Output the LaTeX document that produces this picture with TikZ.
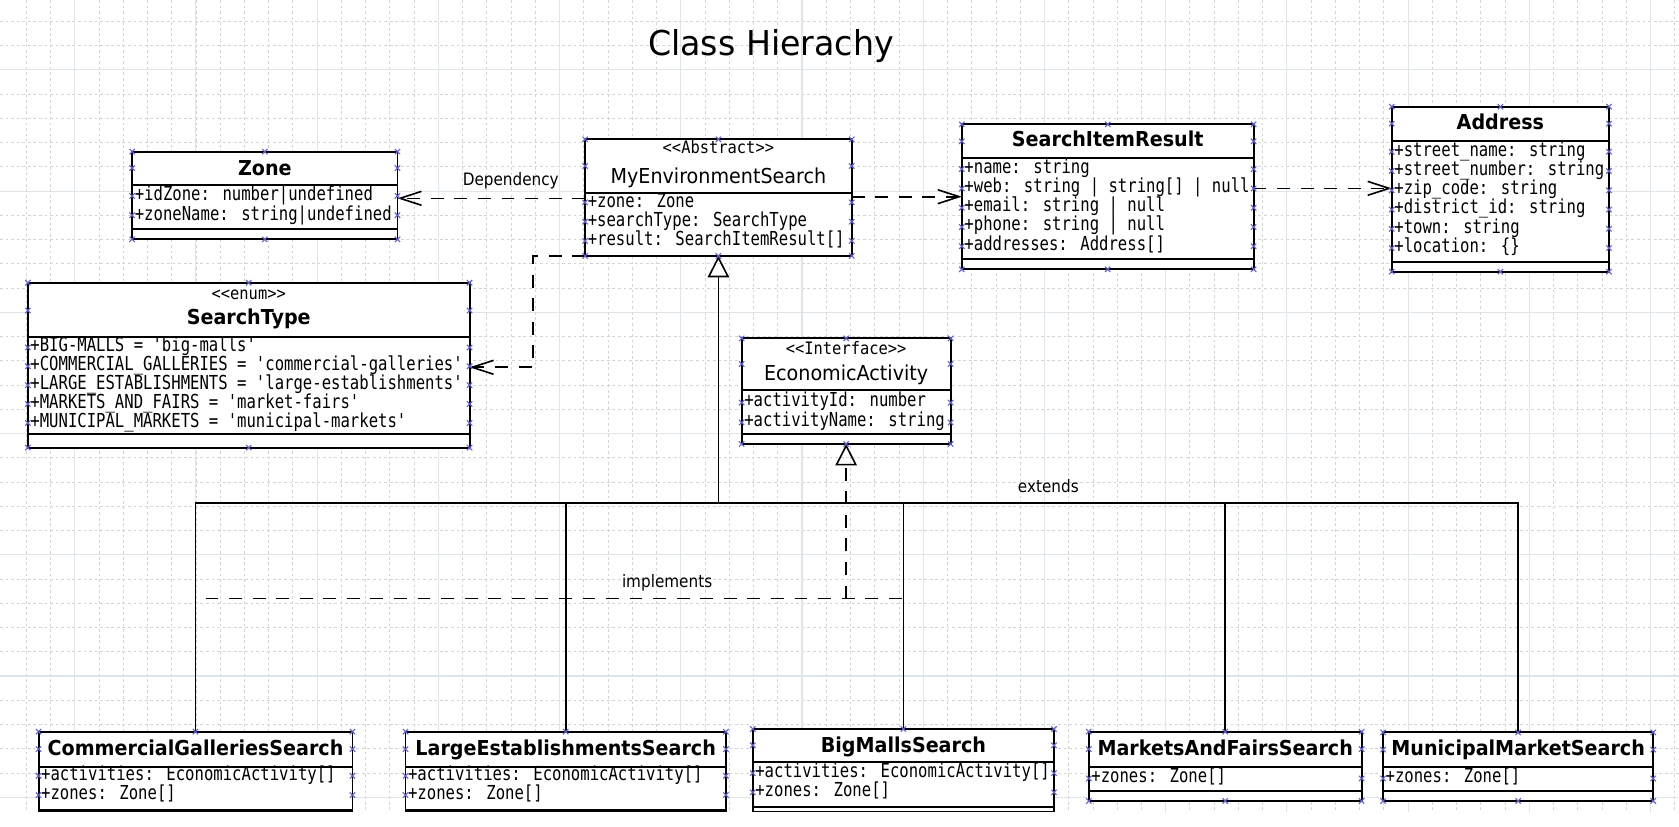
\documentclass[tikz,border=0pt]{standalone}
\usepackage{fontspec}
\setmainfont{DejaVu Sans}
\newfontfamily\attrfont[FakeStretch=0.81,Ligatures=TeXOff]{DejaVu Sans Mono}
\newfontfamily\sterfont[FakeStretch=0.9,Ligatures=TeXOff]{DejaVu Sans Mono}
\newfontfamily\namefont[FakeStretch=0.93]{DejaVu Sans}
\newfontfamily\lblfont[FakeStretch=0.89]{DejaVu Sans}
\newfontfamily\ttlfont[FakeStretch=0.97]{DejaVu Sans}
\usetikzlibrary{arrows.meta,fit,calc}
\definecolor{handlec}{RGB}{95,95,210}
\definecolor{majorc}{RGB}{222,230,236}
\tikzset{
  umlbox/.style={draw=black, line width=0.9pt, fill=white, inner sep=0pt, outer sep=0pt},
  sepline/.style={line width=0.9pt},
  attr/.style={anchor=base west, inner sep=0pt, font=\attrfont\fontsize{9}{9}\selectfont},
  cname/.style={anchor=base, inner sep=0pt, font=\namefont\bfseries\fontsize{9.6}{9.6}\selectfont},
  aname/.style={anchor=base, inner sep=0pt, font=\namefont\fontsize{9.6}{9.6}\selectfont},
  stereo/.style={anchor=base, inner sep=0pt, font=\sterfont\fontsize{8}{8}\selectfont},
  lbl/.style={anchor=base, inner sep=0pt, font=\lblfont\fontsize{8}{8}\selectfont},
  dashline/.style={line width=0.75pt, dash pattern=on 6pt off 5pt},
  dep/.style={dashline, -{Straight Barb[length=10pt,width=6.5pt,line width=0.75pt]}},
  gen/.style={line width=0.75pt},
  genhead/.style={-{Triangle[open,length=10pt,width=10pt,line width=0.75pt]}},
  handle/.style={draw=handlec, line width=0.5pt},
  minorgrid/.style={draw=black!17, line width=0.4pt, dash pattern=on 1.3pt off 1.3pt},
  majorgrid/.style={draw=majorc, line width=0.5pt},
}
\newcommand\classbox[7]{%
  \node[umlbox, fit={(#2,#4)(#3,#5)}] (#1) {};
  \draw[sepline] (#2,#6) -- (#3,#6);
  \draw[sepline] (#2,#7) -- (#3,#7);
}
\newcommand\hmark[2]{%
  \draw[handle] ($(#1,#2)+(-2.5,-2.5)$) -- ($(#1,#2)+(2.5,2.5)$)
                ($(#1,#2)+(-2.5,2.5)$) -- ($(#1,#2)+(2.5,-2.5)$);
}
\newcommand\handles[5]{%
  \foreach \hx in {#1,#2} {\foreach \hy in {#3,#4,#5} {\hmark{\hx}{\hy}}}
  \pgfmathsetmacro\hmid{(#1+#2)/2}
  \hmark{\hmid}{#3}
  \hmark{\hmid}{#4}
}
\begin{document}
\begin{tikzpicture}[x=0.5pt,y=-0.5pt]
\useasboundingbox (0,0) rectangle (1568,771.4);
% background grid
\foreach \i in {0,...,68} {\draw[minorgrid] (24.5+22.64*\i,0) -- (24.5+22.64*\i,771.4);}
\foreach \j in {0,...,33} {\draw[minorgrid] (0,20+22.64*\j) -- (1568,20+22.64*\j);}
\foreach \i in {0,...,13} {\draw[majorgrid] (69.8+113.2*\i,0) -- (69.8+113.2*\i,771.4);}
\foreach \j in {0,...,6} {\draw[majorgrid] (0,65.3+113.2*\j) -- (1568,65.3+113.2*\j);}

% title
\node[anchor=base, inner sep=0pt, font=\ttlfont\fontsize{16}{16}\selectfont] (title) at (720,51.5) {Class Hierachy};

% classes
\classbox{zone}{123.4}{371.2}{141.6}{223.5}{172.8}{213.9}
\node[cname] (zone-n) at (247.3,163.8) {Zone};
\node[attr] (zone-a1) at (125.5,187.4) {+idZone: number|undefined};
\node[attr] (zone-a2) at (125.5,205.5) {+zoneName: string|undefined};

\classbox{myenv}{546.4}{795.4}{130.1}{239}{180.5}{239}
\node[stereo] (myenv-s) at (670.9,143) {<<Abstract>>};
\node[aname] (myenv-n) at (670.9,171.2) {MyEnvironmentSearch};
\node[attr] (myenv-a1) at (548.5,193.6) {+zone: Zone};
\node[attr] (myenv-a2) at (548.5,211.6) {+searchType: SearchType};
\node[attr] (myenv-a3) at (548.5,229.6) {+result: SearchItemResult[]};

\classbox{sir}{898.2}{1170.7}{116.1}{251.5}{147.9}{242.2}
\node[cname] (sir-n) at (1034.5,137) {SearchItemResult};
\node[attr] (sir-a1) at (900.3,161.9) {+name: string};
\node[attr] (sir-a2) at (900.3,179.8) {+web: string | string[] | null};
\node[attr] (sir-a3) at (900.3,197.7) {+email: string | null};
\node[attr] (sir-a4) at (900.3,215.6) {+phone: string | null};
\node[attr] (sir-a5) at (900.3,233.5) {+addresses: Address[]};

\classbox{addr}{1299.7}{1502.6}{99.6}{253.7}{131.4}{244.4}
\node[cname] (addr-n) at (1401.2,121.4) {Address};
\node[attr] (addr-a1) at (1301.8,145.7) {+street\_name: string};
\node[attr] (addr-a2) at (1301.8,163.7) {+street\_number: string};
\node[attr] (addr-a3) at (1301.8,181.7) {+zip\_code: string};
\node[attr] (addr-a4) at (1301.8,199.7) {+district\_id: string};
\node[attr] (addr-a5) at (1301.8,217.7) {+town: string};
\node[attr] (addr-a6) at (1301.8,235.7) {+location: \{\}};

\classbox{stype}{26}{438.5}{264}{418}{315}{405}
\node[stereo] (stype-s) at (232.3,279.5) {<<enum>>};
\node[cname] (stype-n) at (232.3,303.5) {SearchType};
\node[attr] (stype-a1) at (28,328.5) {+BIG-MALLS = 'big-malls'};
\node[attr] (stype-a2) at (28,346.1) {+COMMERCIAL\_GALLERIES = 'commercial-galleries'};
\node[attr] (stype-a3) at (28,363.7) {+LARGE\_ESTABLISHMENTS = 'large-establishments'};
\node[attr] (stype-a4) at (28,381.3) {+MARKETS\_AND\_FAIRS = 'market-fairs'};
\node[attr] (stype-a5) at (28,398.9) {+MUNICIPAL\_MARKETS = 'municipal-markets'};

\classbox{ea}{692.6}{887.8}{316}{414.6}{364.2}{405.6}
\node[stereo] (ea-s) at (790.2,331.5) {<<Interface>>};
\node[aname] (ea-n) at (790.2,354.9) {EconomicActivity};
\node[attr] (ea-a1) at (694.7,380) {+activityId: number};
\node[attr] (ea-a2) at (694.7,398.5) {+activityName: string};

\classbox{cg}{36}{329.2}{683.3}{758}{716}{756.4}
\node[cname] (cg-n) at (182.6,706) {CommercialGalleriesSearch};
\node[attr] (cg-a1) at (38,728.5) {+activities: EconomicActivity[]};
\node[attr] (cg-a2) at (38,746.5) {+zones: Zone[]};

\classbox{le}{378.7}{677.9}{683.3}{758}{716}{756.4}
\node[cname] (le-n) at (528.3,706) {LargeEstablishmentsSearch};
\node[attr] (le-a1) at (380.7,728.5) {+activities: EconomicActivity[]};
\node[attr] (le-a2) at (380.7,746.5) {+zones: Zone[]};

\classbox{bm}{703}{984.3}{680.8}{758}{712}{753.3}
\node[cname] (bm-n) at (843.65,703) {BigMallsSearch};
\node[attr] (bm-a1) at (705,726) {+activities: EconomicActivity[]};
\node[attr] (bm-a2) at (705,744) {+zones: Zone[]};

\classbox{mf}{1016.8}{1271.6}{683.3}{748}{716}{738.7}
\node[cname] (mf-n) at (1144.2,706) {MarketsAndFairsSearch};
\node[attr] (mf-a1) at (1018.8,731) {+zones: Zone[]};

\classbox{mm}{1291.6}{1543.9}{684}{748}{716}{738.7}
\node[cname] (mm-n) at (1417.75,706) {MunicipalMarketSearch};
\node[attr] (mm-a1) at (1293.6,731) {+zones: Zone[]};

% connectors
\coordinate (bus) at (0,469.7);
\draw[gen] (cg.north) -- (cg.north |- bus) -- (mm.north |- bus) -- (mm.north);
\draw[gen] (le.north) -- (le.north |- bus);
\draw[gen] (bm.north) -- (bm.north |- bus);
\draw[gen] (mf.north) -- (mf.north |- bus);
\draw[gen, genhead] (myenv.south |- bus) -- (myenv.south);

\coordinate (impl) at (192,558.8);
\draw[dashline] (impl) -- (bm.north |- impl);
\draw[dashline, genhead] (ea.south |- impl) -- (ea.south);

\coordinate (dz) at (0,185.2);
\coordinate (ds) at (0,183.7);
\coordinate (da) at (0,175.9);
\coordinate (dt) at (0,343);
\coordinate (bend) at (498,239);
\draw[dep] (myenv.west |- dz) -- (zone.east |- dz);
\draw[dep] (myenv.east |- ds) -- (sir.west |- ds);
\draw[dep] (sir.east |- da) -- (addr.west |- da);
\draw[dep] (myenv.south west) -- (bend) -- (bend |- dt) -- (stype.east |- dt);

% labels
\node[lbl] (l-dep) at (477,172.8) {Dependency};
\node[lbl] (l-impl) at (623,548.8) {implements};
\node[lbl] (l-ext) at (979,460) {extends};

% selection handles
\handles{123.4}{371.2}{141.6}{223.5}{157,183,201}
\handles{546.4}{795.4}{130.1}{239}{155,189,207,225}
\handles{898.2}{1170.7}{116.1}{251.5}{132,158,176,194,212,230}
\handles{1299.7}{1502.6}{99.6}{253.7}{115.5,141.7,159.7,177.7,195.7,213.7,231.7}
\handles{26}{438.5}{264}{418}{290,324.5,342,359.7,377.3,395}
\handles{692.6}{887.8}{316}{414.6}{340,376,394.5}
\handles{36}{329.2}{683.3}{800}{699.6,724.5,742.5}
\handles{378.7}{677.9}{683.3}{800}{699.6,724.5,742.5}
\handles{703}{984.3}{680.8}{800}{696,722,740}
\handles{1016.8}{1271.6}{683.3}{748}{699.6,727}
\handles{1291.6}{1543.9}{684}{748}{700,727}

% white strip at the bottom edge
\fill[white] (-5,758) rectangle (1575,780);
\end{tikzpicture}
\end{document}
